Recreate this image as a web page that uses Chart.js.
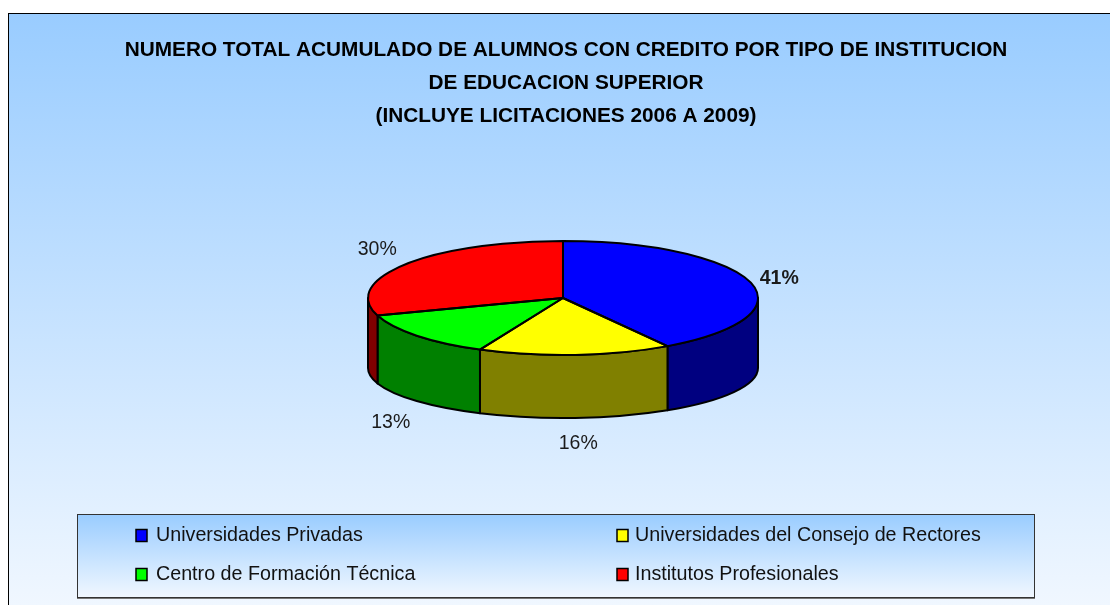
<!DOCTYPE html>
<html>
<head>
<meta charset="utf-8">
<style>
  html, body { margin: 0; padding: 0; background: #fff; overflow: hidden; }
  #chartBox { position: absolute; left: 0; top: 0; width: 1110px; height: 605px; }
</style>
<script src="https://cdn.jsdelivr.net/npm/chart.js@4/dist/chart.umd.min.js"></script>
</head>
<body>
<div id="chartBox"><canvas id="pieChart"></canvas></div>
<script>
const titleLines = [
    'NUMERO TOTAL ACUMULADO DE ALUMNOS CON CREDITO POR TIPO DE INSTITUCION',
    'DE EDUCACION SUPERIOR',
    '(INCLUYE LICITACIONES 2006 A 2009)'
];
const categories = [
    'Universidades Privadas',
    'Universidades del Consejo de Rectores',
    'Centro de Formación Técnica',
    'Institutos Profesionales'
];
const shares = [41, 16, 13, 30];
const topColors = ['#0000FF', '#FFFF00', '#00FF00', '#FF0000'];
const wallColors = ['#000080', '#808000', '#008000', '#800000'];

const fontName = '"Liberation Sans", Arial, sans-serif';

// how the flat pie is tilted on the page
const tilt = { x: 563, y: 298, radius: 195, top: 57, wallDrop: 70, bottom: 50 };
// label offset from the rim point in the middle of each slice
const labelOffsets = [[29, -3], [3, 89], [-26, 87], [-28, -15]];
const labelWeights = ['bold', 'normal', 'normal', 'normal'];
// legend box
const legendBox = { x: 77, y: 514, w: 957, h: 83 };
const legendCols = [136, 617];
const legendTextCols = [156, 635];
const legendRows = [535.5, 574.5];

const pie3d = {
    id: 'pie3d',
    beforeDraw(chart) {
        const ctx = chart.ctx;
        const bg = ctx.createLinearGradient(0, 13, 0, 605);
        bg.addColorStop(0, '#99CCFF');
        bg.addColorStop(1, '#F0F7FF');
        ctx.save();
        ctx.fillStyle = bg;
        ctx.fillRect(8, 13, 1110, 600);
        ctx.strokeStyle = '#000';
        ctx.lineWidth = 1;
        ctx.strokeRect(8.5, 13.5, 1110, 600);
        ctx.restore();
    },
    beforeDatasetsDraw(chart) {
        const ctx = chart.ctx;
        const arcs = chart.getDatasetMeta(0).data;
        ctx.save();
        ctx.lineWidth = 2;
        ctx.strokeStyle = '#000';
        ctx.lineJoin = 'round';
        arcs.forEach((arc, i) => {
            // only the front half of the rim can be seen
            const from = Math.max(arc.startAngle, 0);
            const to = Math.min(arc.endAngle, Math.PI);
            if (to <= from) return;
            ctx.beginPath();
            ctx.ellipse(tilt.x, tilt.y, tilt.radius, tilt.top, 0, from, to);
            ctx.ellipse(tilt.x, tilt.y + tilt.wallDrop, tilt.radius, tilt.bottom, 0, to, from, true);
            ctx.closePath();
            ctx.fillStyle = wallColors[i];
            ctx.fill();
            ctx.stroke();
        });
        ctx.restore();
        // the library's own arcs get squashed into the top of the pie
        const first = arcs[0];
        ctx.save();
        ctx.translate(tilt.x, tilt.y);
        ctx.scale(1, tilt.top / tilt.radius);
        ctx.translate(-first.x, -first.y);
    },
    afterDatasetsDraw(chart) {
        const ctx = chart.ctx;
        ctx.restore();
        const arcs = chart.getDatasetMeta(0).data;
        ctx.save();
        ctx.lineWidth = 2;
        ctx.strokeStyle = '#000';
        ctx.lineJoin = 'round';
        arcs.forEach(arc => {
            ctx.beginPath();
            ctx.moveTo(tilt.x, tilt.y);
            ctx.ellipse(tilt.x, tilt.y, tilt.radius, tilt.top, 0, arc.startAngle, arc.endAngle);
            ctx.closePath();
            ctx.stroke();
        });
        // percentage labels
        ctx.fillStyle = '#1a1a1a';
        ctx.textAlign = 'center';
        ctx.textBaseline = 'middle';
        arcs.forEach((arc, i) => {
            const mid = (arc.startAngle + arc.endAngle) / 2;
            const rimX = tilt.x + tilt.radius * Math.cos(mid);
            const rimY = tilt.y + tilt.top * Math.sin(mid);
            ctx.font = labelWeights[i] + ' 19.5px ' + fontName;
            ctx.fillText(shares[i] + '%', rimX + labelOffsets[i][0], rimY + labelOffsets[i][1]);
        });
        ctx.restore();
    },
    afterDraw(chart) {
        const ctx = chart.ctx;
        const b = legendBox;
        const bg = ctx.createLinearGradient(0, b.y, 0, b.y + b.h);
        bg.addColorStop(0, '#99CCFF');
        bg.addColorStop(1, '#F0F7FF');
        ctx.save();
        ctx.fillStyle = bg;
        ctx.fillRect(b.x, b.y, b.w, b.h);
        ctx.strokeStyle = '#333';
        ctx.lineWidth = 1;
        ctx.strokeRect(b.x + 0.5, b.y + 0.5, b.w, b.h);
        // soft grey line under the box
        ctx.strokeStyle = '#777';
        ctx.beginPath();
        ctx.moveTo(b.x, b.y + b.h + 1.5);
        ctx.lineTo(b.x + b.w + 1, b.y + b.h + 1.5);
        ctx.stroke();
        ctx.font = '19.7px ' + fontName;
        ctx.textAlign = 'left';
        ctx.textBaseline = 'middle';
        categories.forEach((name, i) => {
            const x = legendCols[i % 2];
            const y = legendRows[Math.floor(i / 2)];
            ctx.fillStyle = topColors[i];
            ctx.fillRect(x, y - 6, 11, 12);
            ctx.strokeStyle = '#000';
            ctx.lineWidth = 1.5;
            ctx.strokeRect(x, y - 6, 11, 12);
            ctx.fillStyle = '#111';
            ctx.fillText(name, legendTextCols[i % 2], y);
        });
        ctx.restore();
    }
};

new Chart(document.getElementById('pieChart'), {
    type: 'pie',
    data: {
        labels: categories,
        datasets: [{
            data: shares,
            backgroundColor: topColors,
            borderWidth: 0
        }]
    },
    options: {
        responsive: true,
        maintainAspectRatio: false,
        animation: false,
        radius: tilt.radius,
        layout: { padding: { left: 22 } },
        plugins: {
            legend: { display: false },
            tooltip: { enabled: false },
            title: {
                display: true,
                text: titleLines,
                color: '#000',
                font: { family: fontName, size: 20.8, weight: 'bold', lineHeight: 1.587 },
                padding: { top: 33.5, bottom: 4 }
            }
        }
    },
    plugins: [pie3d]
});
</script>
</body>
</html>
